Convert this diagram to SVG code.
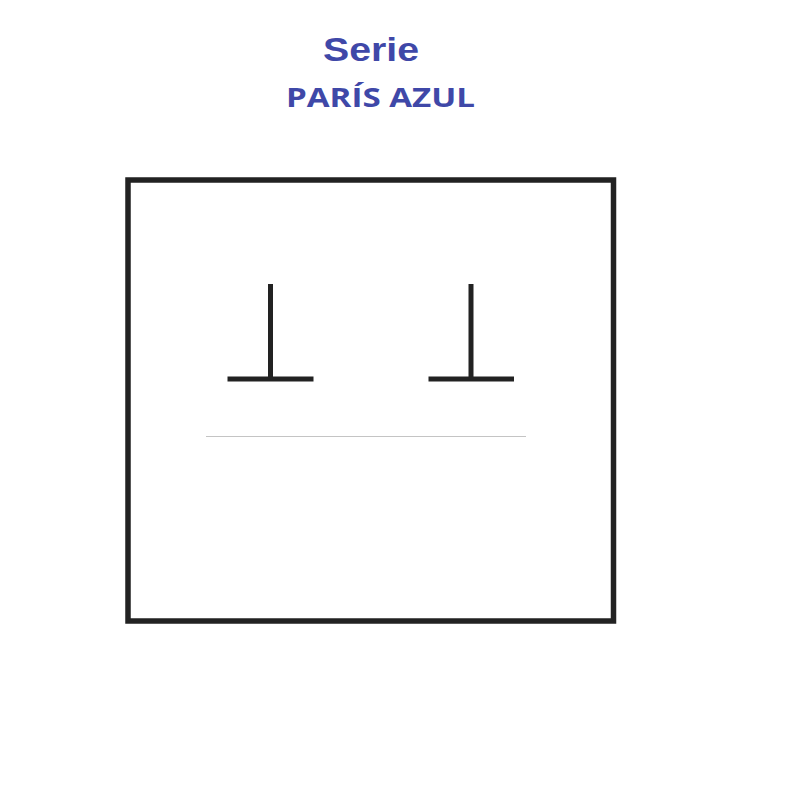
<svg xmlns="http://www.w3.org/2000/svg" width="800" height="800" viewBox="0 0 800 800">
<style>
.title{font-family:"Liberation Sans",Arial,sans-serif;font-weight:bold;fill:#3f48a8}
.sub{font-family:"Open Sans","Liberation Sans",sans-serif;font-weight:bold;fill:#3f48a8}
.frame{fill:none;stroke:#222;stroke-width:5.5}
.t{stroke:#222;stroke-width:5;fill:none}
.rule{stroke:#c4c4c4;stroke-width:1.2}
</style>
<rect width="800" height="800" fill="#fff"/>
<text class="title" x="323" y="60.5" font-size="33.5" textLength="96" lengthAdjust="spacingAndGlyphs">Serie</text>
<text class="sub" x="286" y="106.5" font-size="26.5" textLength="189" lengthAdjust="spacingAndGlyphs">PARÍS AZUL</text>
<g id="frame"><rect class="frame" x="128" y="180" width="485.5" height="441"/></g>
<g id="t-left"><path class="t" d="M270.5 284V379M227.5 379H313.5"/></g>
<g id="t-right"><path class="t" d="M471 284V379M428.5 379H514"/></g>
<g id="rule"><line class="rule" x1="206" y1="436.5" x2="526" y2="436.5"/></g>
</svg>
